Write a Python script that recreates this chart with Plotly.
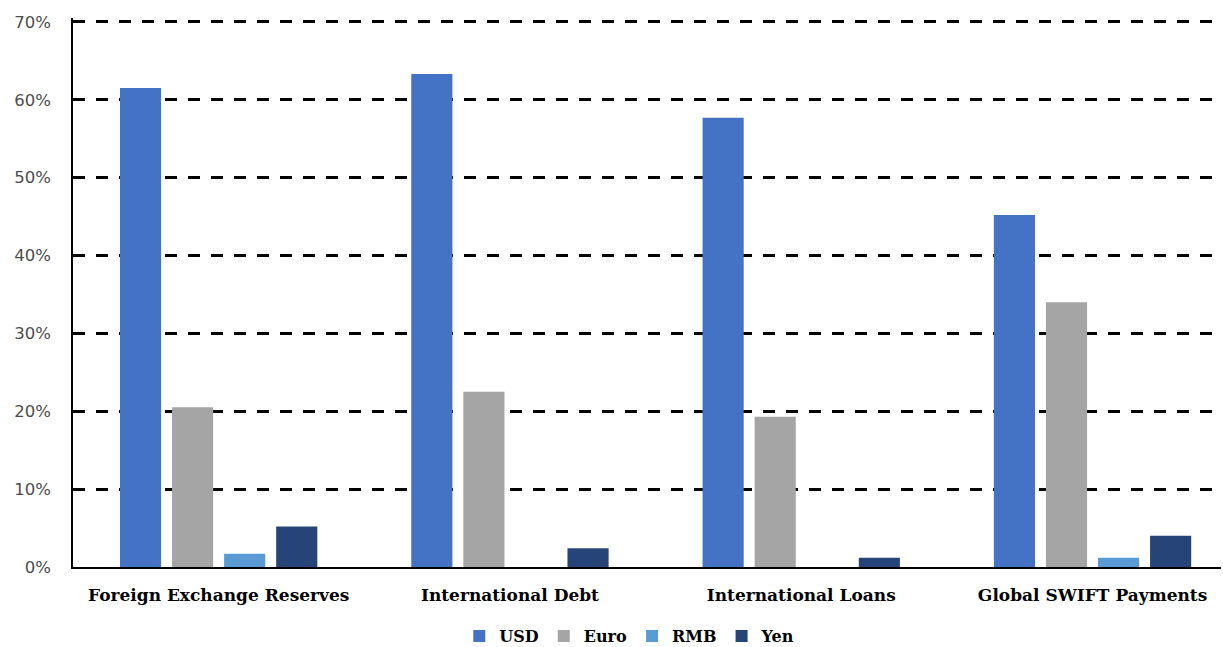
import plotly.graph_objects as go

categories = ["Foreign Exchange Reserves", "International Debt", "International Loans", "Global SWIFT Payments"]
series_names = ["USD", "Euro", "RMB", "Yen"]
usd = [61.5, 63.3, 57.7, 45.2]
euro = [20.5, 22.5, 19.3, 34.0]
rmb = [1.7, 0.0, 0.0, 1.2]
yen = [5.2, 2.4, 1.2, 4.0]
y_ticks = [0, 10, 20, 30, 40, 50, 60, 70]

colors = ["#4472C4", "#A5A5A5", "#5B9BD5", "#264478"]
values = [usd, euro, rmb, yen]

fig = go.Figure()
for name, vals, col in zip(series_names, values, colors):
    fig.add_trace(go.Bar(x=categories, y=vals, name=name, marker=dict(color=col, line=dict(width=0))))

bold_serif = "DejaVu Serif"
fig.update_layout(
    width=1223, height=647,
    margin=dict(l=73, r=2, t=18, b=80, autoexpand=False),
    plot_bgcolor="white", paper_bgcolor="white",
    barmode="group", bargap=0.285, bargroupgap=0.21,
    showlegend=True,
    legend=dict(orientation="h", x=0.485, xanchor="center", y=-0.126, yanchor="middle",
                font=dict(family=bold_serif, size=16, color="black", weight="bold"),
                itemwidth=30, traceorder="normal"),
    xaxis=dict(type="category", range=[-0.5, 3.441], showline=True, linecolor="black", linewidth=1.5,
               showgrid=False, ticks="", ticklabelstandoff=12,
               tickfont=dict(family=bold_serif, size=17, color="black", weight="bold")),
    yaxis=dict(range=[0, 70.5], tickvals=y_ticks, ticktext=[f"{v}%" for v in y_ticks],
               showline=True, linecolor="black", linewidth=1.5, ticks="", ticklabelstandoff=17,
               showgrid=True, gridcolor="black", gridwidth=3, griddash="12px,11px",
               zeroline=False,
               tickfont=dict(family="DejaVu Sans", size=16.5, color="#4d4d4d")),
)
fig.write_html("out.html", config={"displayModeBar": False},
               post_script="document.body.style.margin='0';")
